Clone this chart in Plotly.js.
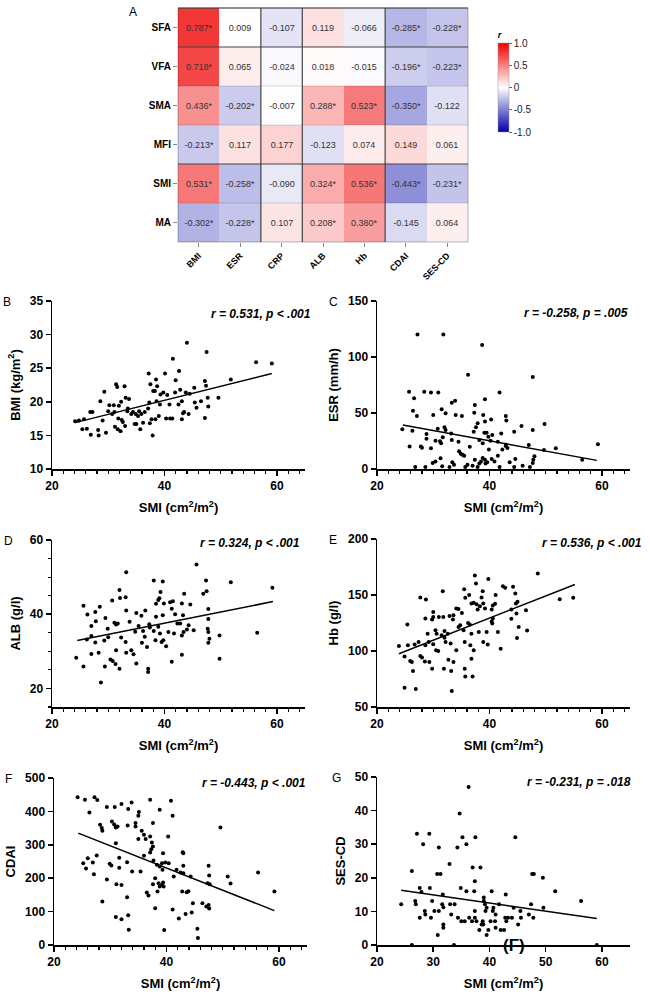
<!DOCTYPE html>
<html>
<head>
<meta charset="utf-8">
<script src="https://cdn.plot.ly/plotly-3.0.1.min.js"></script>
<style>body{margin:0;background:#fff;} #chart{width:650px;height:1000px;}</style>
</head>
<body>
<div id="chart"></div>
<script>
// correlation matrix (panel A)
var rowNames = ['SFA', 'VFA', 'SMA', 'MFI', 'SMI', 'MA'];
var colNames = ['BMI', 'ESR', 'CRP', 'ALB', 'Hb', 'CDAI', 'SES-CD'];
var rValues = [
    [0.787, 0.009, -0.107, 0.119, -0.066, -0.285, -0.228],
    [0.718, 0.065, -0.024, 0.018, -0.015, -0.196, -0.223],
    [0.436, -0.202, -0.007, 0.288, 0.523, -0.350, -0.122],
    [-0.213, 0.117, 0.177, -0.123, 0.074, 0.149, 0.061],
    [0.531, -0.258, -0.090, 0.324, 0.536, -0.443, -0.231],
    [-0.302, -0.228, 0.107, 0.208, 0.380, -0.145, 0.064]
];
var rSig = [
    [1, 0, 0, 0, 0, 1, 1],
    [1, 0, 0, 0, 0, 1, 1],
    [1, 1, 0, 1, 1, 1, 0],
    [1, 0, 0, 0, 0, 0, 0],
    [1, 1, 0, 1, 1, 1, 1],
    [1, 1, 0, 1, 1, 0, 0]
];

// B: SMI vs BMI
var bmiX = [24.1,24.8,25.4,25.7,26.2,26.8,27.2,26.9,28.6,28.2,28.3,29.0,29.3,29.6,30.0,30.2,30.7,31.0,31.1,31.2,31.4,31.6,31.7,31.8,31.9,32.2,32.3,32.4,32.6,32.9,33.0,33.1,33.4,33.5,33.7,34.1,34.4,34.7,34.9,35.0,35.3,35.5,35.7,35.9,36.2,36.5,37.1,37.2,37.3,37.4,37.5,37.7,37.9,38.0,38.3,38.4,38.5,38.6,38.7,39.0,39.2,39.3,39.8,40.1,40.3,40.5,40.9,41.0,41.4,41.5,41.9,42.0,42.5,42.6,42.8,43.1,43.1,43.3,43.5,43.8,44.0,44.3,44.5,45.3,45.4,45.7,46.5,47.2,47.2,47.4,47.5,47.7,47.8,49.6,51.8,56.3,59.1];
var bmiY = [17.1,17.2,15.9,17.4,16.0,18.5,18.5,15.1,20.1,15.8,15.0,17.2,21.5,15.4,18.6,19.5,18.2,19.5,18.5,16.3,22.6,22.2,15.9,17.5,19.4,15.6,20.0,17.3,17.0,22.3,16.4,20.6,18.6,19.0,20.4,18.2,18.5,16.7,18.2,16.7,17.9,18.6,15.9,18.2,16.9,18.5,19.0,24.2,19.9,16.8,22.6,17.4,15.0,21.6,21.6,17.4,23.3,20.1,22.3,17.9,19.6,21.1,21.4,24.2,17.5,21.0,19.6,17.5,17.5,26.4,21.4,23.2,19.6,24.6,21.8,20.1,17.4,18.3,18.5,21.4,28.8,18.2,21.2,22.1,19.9,19.1,20.1,23.1,17.6,22.4,27.4,20.6,19.3,20.6,23.3,25.9,25.7];
var bmiFitX = [24.1, 59.1];
var bmiFitY = [16.9, 24.2];

// C: SMI vs ESR
var esrX = [27.2,31.8,38.7,36.2,47.7,25.7,26.6,28.4,29.6,30.9,41.8,26.4,27.1,30.0,31.5,32.2,33.3,33.9,34.0,35.1,37.4,37.3,39.2,38.9,40.3,39.2,42.9,43.0,49.8,45.7,47.7,59.3,24.5,26.3,25.8,27.8,28.0,28.8,28.8,29.6,30.4,30.8,31.2,31.4,31.7,32.0,32.2,33.2,33.3,34.5,36.5,37.2,37.6,37.9,38.2,38.8,39.1,39.5,39.8,40.2,40.5,41.5,42.1,42.9,44.4,47.0,49.7,51.8,26.8,28.6,29.9,30.4,31.3,31.6,32.9,33.4,33.7,34.6,34.9,35.2,35.5,35.7,36.1,37.0,37.4,37.9,38.2,38.5,38.8,39.2,39.3,39.6,39.9,40.4,40.9,41.5,41.8,42.3,42.9,43.2,43.6,44.4,44.6,45.9,47.2,47.7,47.8,48.0,56.5];
var esrY = [120,120,110.7,84.2,82.1,69.0,63.1,69.0,68.2,68.2,68.2,52.1,47.3,48.2,53.3,49.7,59.2,61.0,48.2,47.3,57.1,50.3,62.2,48.2,44.3,42.3,47.3,43.2,40.2,38.4,34.8,22.0,35.4,34.2,20.0,20.0,19.0,31.3,27.1,18.5,25.3,36.0,24.7,22.9,28.3,37.2,34.8,31.8,25.9,24.4,19.9,33.3,37.2,40.8,25.9,22.9,32.4,32.4,28.9,25.3,30.4,24.4,31.8,20.5,33.3,21.4,17.0,18.5,1.8,1.8,5.4,6.8,9.5,2.4,1.8,6.0,3.9,15.8,13.7,12.8,11.9,1.8,3.9,3.0,8.3,1.8,4.8,6.8,9.8,8.3,4.8,6.0,17.3,8.9,6.8,11.9,1.8,17.3,21.7,18.8,6.0,1.8,8.9,3.0,1.8,5.4,8.3,11.3,8.3];
var esrFitX = [24.6, 59.1];
var esrFitY = [39.3, 7.7];

// D: SMI vs ALB
var albX = [45.7,33.2,51.8,59.2,38.1,39.7,47.4,32.0,43.5,46.9,47.5,33.1,32.1,30.7,25.6,28.5,26.3,27.7,29.5,33.2,35.0,35.9,36.6,38.5,38.9,39.1,39.3,39.9,38.5,39.7,41.0,41.5,41.3,41.9,43.1,44.6,43.3,47.8,47.8,27.0,27.8,26.2,27.0,27.7,29.3,29.9,30.0,31.1,31.4,31.7,32.3,33.1,33.8,34.8,35.4,36.2,36.5,37.3,37.4,38.1,38.4,38.9,39.2,39.5,39.8,40.3,40.7,41.7,42.3,42.8,43.1,43.4,44.0,44.3,45.2,47.7,47.8,48.0,47.8,49.8,56.5,24.3,25.6,27.0,28.3,29.4,30.4,30.8,31.3,32.0,33.2,34.5,35.0,37.1,37.1,41.3,43.1,49.8,28.7,31.4,34.1,36.0,36.9];
var albY = [53.4,51.3,48.6,47.1,49.1,48.8,49.1,46.5,45.5,45.5,46.2,44.6,44.4,43.7,42.3,42.0,39.9,40.6,39.0,41.0,40.3,39.6,41.0,42.8,43.8,44.3,46.0,42.9,39.3,39.7,43.2,43.5,41.5,40.0,42.9,42.6,39.7,41.4,38.7,36.8,38.1,33.2,34.1,32.4,32.9,36.1,33.8,37.7,37.2,37.5,33.7,32.5,38.0,35.3,36.8,35.5,33.9,37.3,36.4,35.5,33.0,36.6,34.8,32.5,33.0,31.4,35.2,34.8,37.5,37.5,34.3,35.2,35.9,37.0,35.7,36.1,35.2,33.4,32.3,34.3,35.0,28.3,25.9,29.3,29.6,25.9,27.8,27.4,26.6,25.3,29.6,29.2,26.7,25.3,24.4,27.2,29.1,28.0,21.6,30.3,30.3,32.3,31.2];
var albFitX = [24.5, 59.3];
var albFitY = [32.9, 43.4];

// E: SMI vs Hb
var hbX = [48.6,37.4,39.8,31.7,37.6,35.5,38.8,42.4,42.8,44.2,44.6,41.1,52.5,54.9,27.7,28.7,35.7,36.4,36.8,37.2,37.7,37.9,38.6,38.9,38.3,39.2,40.6,41.0,40.4,43.9,44.7,45.0,46.5,44.8,43.9,45.2,44.9,46.7,40.6,40.4,40.5,41.5,42.0,39.5,38.1,38.9,39.7,36.5,36.8,36.2,36.6,35.4,34.8,34.5,33.6,33.5,32.9,34.5,35.1,34.1,30.0,30.0,29.8,31.0,31.8,28.6,29.0,30.4,30.6,31.5,32.0,32.0,32.6,25.4,27.4,26.7,25.5,28.6,29.2,30.0,30.5,30.9,32.2,33.1,34.1,35.6,37.2,23.9,24.9,25.9,26.2,27.7,28.0,28.5,29.3,26.4,29.8,31.9,32.7,33.2,33.6,35.6,35.7,37.0,36.8,24.9,26.9,33.3];
var hbY = [169.3,167.5,164.2,153.4,160.3,155.2,153.4,157.9,156.4,157.3,151.3,149.9,146.3,147.5,147.8,146.0,147.5,149.9,142.4,143.0,141.8,137.0,147.8,142.4,140.0,137.9,140.6,142.1,137.0,137.0,142.4,143.9,136.4,133.4,128.7,121.5,111.6,118.2,129.0,126.3,124.5,117.0,102.1,117.0,117.0,108.1,105.7,123.6,115.5,125.1,105.1,118.5,123.0,121.5,131.9,128.1,131.3,137.6,134.0,137.9,134.9,130.4,128.1,130.4,130.4,129.0,115.5,118.5,115.5,114.0,111.9,117.9,115.5,123.6,108.1,105.7,105.1,105.1,108.1,106.0,100.6,100.0,108.1,106.6,100.6,108.1,100.6,104.5,95.2,91.0,90.1,95.5,94.3,90.7,90.1,82.1,84.2,84.2,92.2,82.1,90.1,84.2,77.3,77.3,93.1,67.2,66.0,64.2];
var hbFitX = [23.9, 55.2];
var hbFitY = [97.6, 159.4];

// F: SMI vs CDAI
var cdaiX = [24.2,25.5,27.2,27.7,26.3,29.4,30.8,32.0,33.8,33.2,28.2,28.5,28.6,30.3,30.7,31.0,31.3,33.1,34.5,34.5,35.0,35.1,37.1,40.8,38.8,41.1,37.6,35.0,35.6,36.0,36.3,37.1,37.4,37.6,37.3,40.3,49.6,27.6,26.0,25.7,25.2,26.9,27.1,29.9,30.2,31.0,31.6,31.6,33.0,33.9,35.4,36.0,37.1,37.7,38.3,38.8,39.2,39.3,39.4,39.8,40.4,41.3,41.8,42.5,42.9,43.0,43.0,43.0,44.3,47.5,47.6,47.3,47.7,50.9,51.4,56.3,59.2,29.4,31.1,32.0,37.6,38.0,38.6,38.8,39.2,39.5,39.4,36.5,36.8,38.0,38.4,42.8,43.6,43.9,46.4,44.7,47.1,47.5,47.6,28.6,33.0,41.1,42.2,43.4,44.5,31.0,32.0,33.2,33.3,39.6,45.5,45.6];
var cdaiY = [442,435,442,434,397,413,413,422,427,407,360,350,342,370,361,352,355,358,365,355,387,398,435,432,405,387,365,317,342,330,317,325,307,295,287,325,352,268,260,229,245,247,212,243,238,305,261,231,248,220,220,267,277,253,240,235,245,225,275,247,245,205,225,217,278,275,237,215,205,237,208,185,182,205,184,217,160,196,182,180,182,200,185,175,180,175,187,157,148,110,160,160,158,161,125,125,115,120,109,130,143,106,79,93,97,84,77,89,46,45,49,21];
var cdaiFitX = [24.3, 59.2];
var cdaiFitY = [335, 103];

// G: SMI vs SES-CD
var sesX = [36.3,34.7,27.1,29.3,35.2,37.5,44.6,28.2,31.0,34.3,35.9,32.9,37.0,38.4,26.2,30.7,31.3,37.4,47.6,47.9,49.5,27.6,29.4,34.9,35.9,37.3,40.4,51.7,42.9,31.7,24.3,26.8,26.9,27.9,29.8,30.2,31.0,31.6,31.8,33.0,33.8,33.2,28.5,28.6,27.6,29.6,31.8,31.8,30.8,34.4,35.0,35.6,36.4,36.9,37.4,37.4,37.7,38.2,38.6,38.8,38.9,39.0,39.0,39.2,39.3,39.5,39.5,39.8,40.2,40.6,40.7,41.0,41.1,41.1,41.7,42.0,42.6,42.8,43.0,43.3,44.0,44.3,45.1,45.5,45.6,47.0,47.4,47.8,49.6,56.3,26.2,33.7,59.1];
var sesY = [47.0,39.1,33.1,33.1,32.1,32.1,32.1,30.0,29.0,29.0,30.0,24.1,23.1,23.1,22.0,21.1,21.1,19.0,21.1,21.1,20.0,17.0,17.0,17.0,16.0,16.0,16.0,16.0,15.0,15.0,12.1,13.1,12.1,15.8,13.1,10.1,10.1,12.1,11.2,12.1,12.1,9.1,10.1,9.1,8.1,8.1,6.1,5.1,3.0,8.1,7.1,7.1,8.1,7.1,10.1,8.1,7.1,4.5,6.1,7.1,6.1,14.1,13.1,12.1,10.1,11.1,3.0,4.5,7.1,10.1,11.1,7.1,9.1,5.1,12.1,4.5,4.5,8.1,7.1,8.1,8.1,11.1,6.1,10.1,8.1,9.1,12.1,8.1,11.1,13.1,0,0,0];
var sesFitX = [24.3, 59.1];
var sesFitY = [16.3, 7.9];

var FONT = 'Liberation Sans, Arial, sans-serif';
var W = 650, H = 1000;
function px(x) { return x / W; }
function py(y) { return 1 - y / H; }

var cellText = rValues.map(function (row, i) {
    return row.map(function (v, j) {
        return v.toFixed(3) + (rSig[i][j] ? '*' : '');
    });
});

var data = [{
    type: 'heatmap',
    z: rValues,
    x: colNames,
    y: rowNames,
    text: cellText,
    texttemplate: '%{text}',
    textfont: {family: FONT, size: 9, color: '#333'},
    zmin: -1,
    zmax: 1,
    colorscale: [[0, 'rgb(0,0,170)'], [0.5, 'rgb(255,255,255)'], [1, 'rgb(240,0,0)']],
    colorbar: {
        x: px(498), xanchor: 'left', xpad: 0,
        y: py(28), yanchor: 'top', ypad: 0,
        len: 104, lenmode: 'pixels', thickness: 11,
        outlinewidth: 0.5, outlinecolor: '#999',
        tickvals: [-1, -0.5, 0, 0.5, 1],
        ticktext: ['-1.0', '-0.5', '0', '0.5', '1.0'],
        ticks: 'outside', ticklen: 3, tickcolor: '#666',
        tickfont: {family: FONT, size: 10, color: '#222'},
        title: {text: '<b><i>r</i></b>', side: 'top', font: {family: FONT, size: 9}}
    },
    xaxis: 'x',
    yaxis: 'y'
}];

var layout = {
    width: W,
    height: H,
    margin: {l: 0, r: 0, t: 0, b: 0},
    paper_bgcolor: 'white',
    plot_bgcolor: 'rgba(0,0,0,0)',
    showlegend: false,
    font: {family: FONT, color: 'black'},
    xaxis: {
        domain: [px(178), px(468)],
        anchor: 'y',
        type: 'category',
        tickangle: -45,
        ticks: 'outside', ticklen: 4, tickcolor: '#888',
        tickfont: {family: FONT, size: 9, weight: 'bold'},
        showgrid: false, zeroline: false, showline: false
    },
    yaxis: {
        domain: [py(242), py(8)],
        anchor: 'x',
        type: 'category',
        autorange: 'reversed',
        ticks: 'outside', ticklen: 4, tickcolor: '#888',
        tickfont: {family: FONT, size: 10, weight: 'bold'},
        showgrid: false, zeroline: false, showline: false
    },
    shapes: [],
    annotations: []
};

// heatmap separator lines
[0.5, 1.5, 2.5, 3.5, 4.5].forEach(function (r) {
    var dark = (r === 0.5 || r === 3.5);
    layout.shapes.push({type: 'line', xref: 'x domain', yref: 'y', x0: 0, x1: 1, y0: r, y1: r,
        line: {color: dark ? '#444' : 'rgba(0,0,0,0.18)', width: dark ? 1.2 : 0.8}});
});
[1.5, 2.5, 4.5].forEach(function (c) {
    layout.shapes.push({type: 'line', xref: 'x', yref: 'y domain', x0: c, x1: c, y0: 0, y1: 1,
        line: {color: '#444', width: 1.2}});
});
layout.shapes.push({type: 'rect', xref: 'x domain', yref: 'y domain', x0: 0, x1: 1, y0: 0, y1: 1,
    line: {color: 'rgba(0,0,0,0.35)', width: 0.8}});
layout.shapes.push({type: 'line', xref: 'x domain', yref: 'y domain', x0: 0, x1: 1, y0: 1, y1: 1,
    line: {color: '#444', width: 1.2}});

var tickFont = {family: FONT, size: 12, color: 'black', weight: 'bold'};
var titleFont = {family: FONT, size: 13, color: 'black', weight: 'bold'};

var panels = [
    {x: bmiX, y: bmiY, fx: bmiFitX, fy: bmiFitY, left: 52, top: 301, bottom: 469,
     yr: [10, 35], ydt: 5, yminor: 0, ytitle: 'BMI (kg/m<sup>2</sup>)',
     stat: 'r = 0.531, p < .001', sx: 313, sy: 314, letter: 'B', lx: 7, ly: 302},
    {x: esrX, y: esrY, fx: esrFitX, fy: esrFitY, left: 377, top: 301, bottom: 469,
     yr: [0, 150], ydt: 50, yminor: 0, ytitle: 'ESR (mm/h)',
     stat: 'r = -0.258, p = .005', sx: 630, sy: 313, letter: 'C', lx: 333, ly: 302},
    {x: albX, y: albY, fx: albFitX, fy: albFitY, left: 52, top: 540, bottom: 707,
     yr: [15, 60], ydt: 20, yminor: 5, ytitle: 'ALB (g/l)',
     stat: 'r = 0.324, p < .001', sx: 302, sy: 543, letter: 'D', lx: 8, ly: 541},
    {x: hbX, y: hbY, fx: hbFitX, fy: hbFitY, left: 377, top: 539, bottom: 707,
     yr: [50, 200], ydt: 50, yminor: 0, ytitle: 'Hb (g/l)',
     stat: 'r = 0.536, p < .001', sx: 644, sy: 543, letter: 'E', lx: 333, ly: 540},
    {x: cdaiX, y: cdaiY, fx: cdaiFitX, fy: cdaiFitY, left: 54, top: 778, bottom: 945,
     yr: [0, 500], ydt: 100, yminor: 0, ytitle: 'CDAI',
     stat: 'r = -0.443, p < .001', sx: 308, sy: 783, letter: 'F', lx: 8, ly: 779},
    {x: sesX, y: sesY, fx: sesFitX, fy: sesFitY, left: 377, top: 777, bottom: 945,
     yr: [0, 50], ydt: 10, yminor: 0, ytitle: 'SES-CD',
     stat: 'r = -0.231, p = .018', sx: 633, sy: 782, letter: 'G', lx: 336, ly: 778, xdt: 10}
];

panels.forEach(function (p, i) {
    var n = i + 2;
    var xa = 'x' + n, ya = 'y' + n;
    data.push({type: 'scatter', mode: 'markers', x: p.x, y: p.y, xaxis: xa, yaxis: ya,
        marker: {size: 4, color: 'black'}, cliponaxis: false});
    data.push({type: 'scatter', mode: 'lines', x: p.fx, y: p.fy, xaxis: xa, yaxis: ya,
        line: {color: 'black', width: 1.5}});

    var xdt = p.xdt || 20;
    layout['xaxis' + n] = {
        domain: [px(p.left), px(p.left + 253)],
        anchor: ya,
        range: [20, 65],
        tick0: 20, dtick: xdt,
        ticks: 'outside', ticklen: 5, tickwidth: 1.5, tickcolor: 'black',
        minor: xdt === 20 ? {dtick: 2, ticks: 'outside', ticklen: 3, tickwidth: 1.2, tickcolor: 'black', showgrid: false} : {ticks: ''},
        showline: true, linewidth: 1.5, linecolor: 'black',
        showgrid: false, zeroline: false,
        tickfont: tickFont,
        title: {text: 'SMI (cm<sup>2</sup>/m<sup>2</sup>)', font: titleFont, standoff: 11}
    };
    layout['yaxis' + n] = {
        domain: [py(p.bottom), py(p.top)],
        anchor: xa,
        range: p.yr,
        tick0: p.yr[0] % p.ydt === 0 ? p.yr[0] : 20, dtick: p.ydt,
        ticks: 'outside', ticklen: 5, tickwidth: 1.5, tickcolor: 'black',
        minor: p.yminor ? {dtick: p.yminor, ticks: 'outside', ticklen: 3, tickwidth: 1.2, tickcolor: 'black', showgrid: false} : {ticks: ''},
        showline: true, linewidth: 1.5, linecolor: 'black',
        showgrid: false, zeroline: false,
        tickfont: tickFont,
        title: {text: p.ytitle, font: titleFont, standoff: 6}
    };
    layout.annotations.push({xref: 'paper', yref: 'paper', x: px(p.sx), y: py(p.sy),
        xanchor: 'right', yanchor: 'middle', showarrow: false,
        text: '<b><i>' + p.stat + '</i></b>', font: {family: FONT, size: 12, color: 'black'}});
    layout.annotations.push({xref: 'paper', yref: 'paper', x: px(p.lx), y: py(p.ly),
        xanchor: 'center', yanchor: 'middle', showarrow: false,
        text: p.letter, font: {family: FONT, size: 12, color: 'black'}});
});

layout.annotations.push({xref: 'paper', yref: 'paper', x: px(133), y: py(12),
    xanchor: 'center', yanchor: 'middle', showarrow: false,
    text: 'A', font: {family: FONT, size: 12, color: 'black'}});
// stray label that sits on the G panel axis in the original figure
layout.annotations.push({xref: 'paper', yref: 'paper', x: px(514), y: py(945),
    xanchor: 'center', yanchor: 'middle', showarrow: false,
    text: '<b>(F)</b>', font: {family: FONT, size: 17, color: 'black'}});

Plotly.newPlot('chart', data, layout, {displayModeBar: false, staticPlot: true});
</script>
</body>
</html>
